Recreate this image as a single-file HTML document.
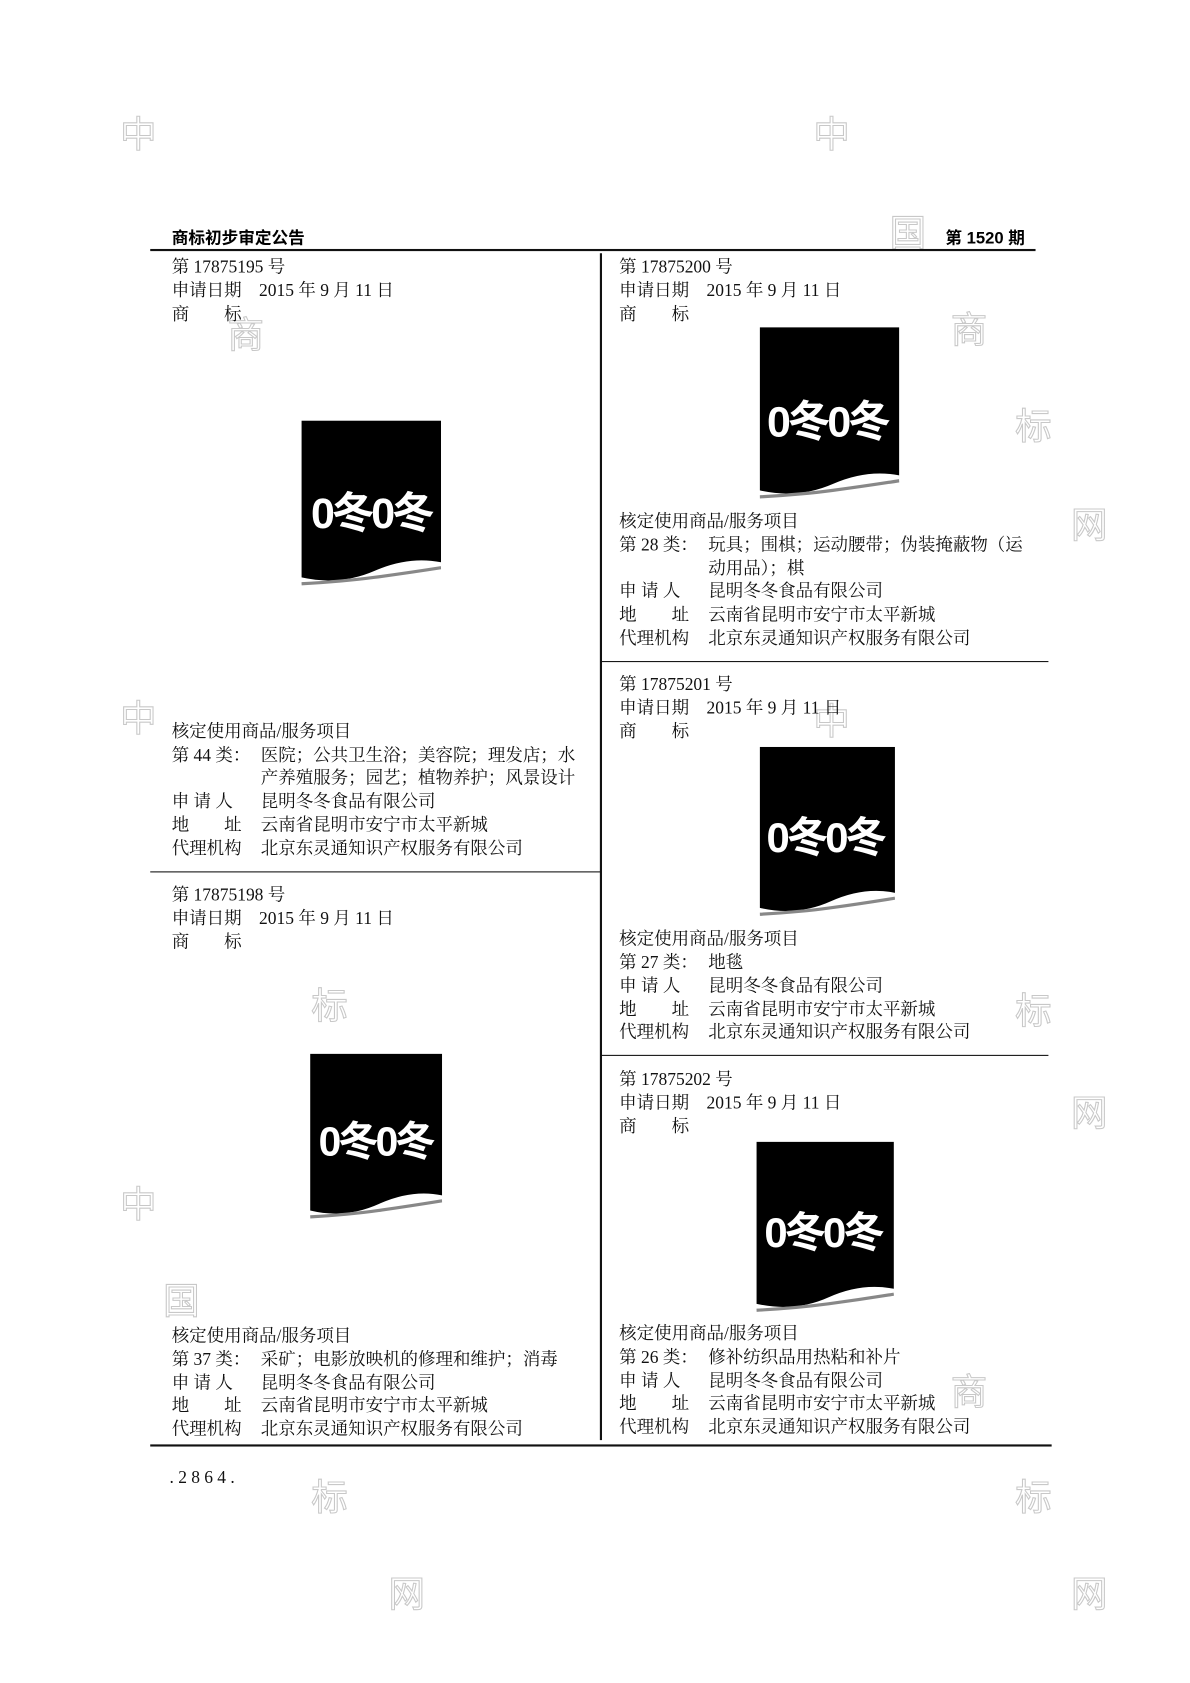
<!DOCTYPE html>
<html><head><meta charset="utf-8"><style>
html,body{margin:0;padding:0;background:#fff;}
body{width:1190px;height:1683px;overflow:hidden;position:relative;}
#w{position:absolute;left:0;top:0;width:1109px;height:1568px;transform:scale(1.0731);transform-origin:0 0;}
.t{position:absolute;font-family:"Liberation Serif","Noto Serif CJK SC",serif;font-size:16.3px;line-height:20px;color:#111;white-space:nowrap;}
.h{position:absolute;font-family:"Liberation Sans","Noto Sans CJK SC",sans-serif;font-size:15.5px;font-weight:bold;color:#000;white-space:nowrap;}
.l{position:absolute;background:#111;}
.v{position:absolute;}
.wm{position:absolute;font-family:"Noto Sans CJK SC",sans-serif;font-size:34px;color:#fff;-webkit-text-stroke:1px #bbb;opacity:.8;}
</style></head><body><div id="w">
<div class="wm" style="left:112px;top:98px">中</div>
<div class="wm" style="left:758px;top:98px">中</div>
<div class="wm" style="left:112px;top:642px">中</div>
<div class="wm" style="left:758px;top:645px">中</div>
<div class="wm" style="left:112px;top:1095px">中</div>
<div class="wm" style="left:829px;top:190px">国</div>
<div class="wm" style="left:152px;top:1185px">国</div>
<div class="wm" style="left:886px;top:280px">商</div>
<div class="wm" style="left:212px;top:285px">商</div>
<div class="wm" style="left:886px;top:1270px">商</div>
<div class="wm" style="left:946px;top:370px">标</div>
<div class="wm" style="left:946px;top:915px">标</div>
<div class="wm" style="left:290px;top:910px">标</div>
<div class="wm" style="left:290px;top:1368px">标</div>
<div class="wm" style="left:946px;top:1368px">标</div>
<div class="wm" style="left:998px;top:462px">网</div>
<div class="wm" style="left:998px;top:1010px">网</div>
<div class="wm" style="left:362px;top:1458px">网</div>
<div class="wm" style="left:998px;top:1458px">网</div>

<div class="h" style="left:160px;top:210px">商标初步审定公告</div>
<div class="h" style="left:881px;top:210px">第 1520 期</div>
<div class="l" style="left:140px;top:232px;width:825px;height:1.5px"></div>
<div class="l" style="left:559px;top:236px;width:1.5px;height:1106px"></div>
<div class="l" style="left:140px;top:812px;width:420px;height:1.2px"></div>
<div class="l" style="left:560px;top:616px;width:417px;height:1.2px"></div>
<div class="l" style="left:560px;top:983px;width:417px;height:1.2px"></div>
<div class="l" style="left:140px;top:1346px;width:840px;height:1.5px"></div>

<!-- left 1 -->
<div class="t" style="left:160px;top:239px">第 17875195 号</div>
<div class="t" style="left:160px;top:261px">申请日期　2015 年 9 月 11 日</div>
<div class="t" style="left:160px;top:283px">商　　标</div>
<div class="t" style="left:160px;top:672px">核定使用商品/服务项目</div>
<div class="t" style="left:160px;top:694px">第 44 类：</div>
<div class="t" style="left:243px;top:694px">医院；公共卫生浴；美容院；理发店；水</div>
<div class="t" style="left:243px;top:715px">产养殖服务；园艺；植物养护；风景设计</div>
<div class="t" style="left:160px;top:737px">申 请 人</div><div class="t" style="left:243px;top:737px">昆明冬冬食品有限公司</div>
<div class="t" style="left:160px;top:759px">地　　址</div><div class="t" style="left:243px;top:759px">云南省昆明市安宁市太平新城</div>
<div class="t" style="left:160px;top:781px">代理机构</div><div class="t" style="left:243px;top:781px">北京东灵通知识产权服务有限公司</div>

<!-- left 2 -->
<div class="t" style="left:160px;top:824px">第 17875198 号</div>
<div class="t" style="left:160px;top:846px">申请日期　2015 年 9 月 11 日</div>
<div class="t" style="left:160px;top:868px">商　　标</div>
<div class="t" style="left:160px;top:1235px">核定使用商品/服务项目</div>
<div class="t" style="left:160px;top:1257px">第 37 类：</div><div class="t" style="left:243px;top:1257px">采矿；电影放映机的修理和维护；消毒</div>
<div class="t" style="left:160px;top:1279px">申 请 人</div><div class="t" style="left:243px;top:1279px">昆明冬冬食品有限公司</div>
<div class="t" style="left:160px;top:1300px">地　　址</div><div class="t" style="left:243px;top:1300px">云南省昆明市安宁市太平新城</div>
<div class="t" style="left:160px;top:1322px">代理机构</div><div class="t" style="left:243px;top:1322px">北京东灵通知识产权服务有限公司</div>

<!-- right 1 -->
<div class="t" style="left:577px;top:239px">第 17875200 号</div>
<div class="t" style="left:577px;top:261px">申请日期　2015 年 9 月 11 日</div>
<div class="t" style="left:577px;top:283px">商　　标</div>
<div class="t" style="left:577px;top:476px">核定使用商品/服务项目</div>
<div class="t" style="left:577px;top:498px">第 28 类：</div><div class="t" style="left:660px;top:498px">玩具；围棋；运动腰带；伪装掩蔽物（运</div>
<div class="t" style="left:660px;top:520px">动用品）；棋</div>
<div class="t" style="left:577px;top:541px">申 请 人</div><div class="t" style="left:660px;top:541px">昆明冬冬食品有限公司</div>
<div class="t" style="left:577px;top:563px">地　　址</div><div class="t" style="left:660px;top:563px">云南省昆明市安宁市太平新城</div>
<div class="t" style="left:577px;top:585px">代理机构</div><div class="t" style="left:660px;top:585px">北京东灵通知识产权服务有限公司</div>

<!-- right 2 -->
<div class="t" style="left:577px;top:628px">第 17875201 号</div>
<div class="t" style="left:577px;top:650px">申请日期　2015 年 9 月 11 日</div>
<div class="t" style="left:577px;top:672px">商　　标</div>
<div class="t" style="left:577px;top:865px">核定使用商品/服务项目</div>
<div class="t" style="left:577px;top:887px">第 27 类：</div><div class="t" style="left:660px;top:887px">地毯</div>
<div class="t" style="left:577px;top:909px">申 请 人</div><div class="t" style="left:660px;top:909px">昆明冬冬食品有限公司</div>
<div class="t" style="left:577px;top:931px">地　　址</div><div class="t" style="left:660px;top:931px">云南省昆明市安宁市太平新城</div>
<div class="t" style="left:577px;top:952px">代理机构</div><div class="t" style="left:660px;top:952px">北京东灵通知识产权服务有限公司</div>

<!-- right 3 -->
<div class="t" style="left:577px;top:996px">第 17875202 号</div>
<div class="t" style="left:577px;top:1018px">申请日期　2015 年 9 月 11 日</div>
<div class="t" style="left:577px;top:1040px">商　　标</div>
<div class="t" style="left:577px;top:1233px">核定使用商品/服务项目</div>
<div class="t" style="left:577px;top:1255px">第 26 类：</div><div class="t" style="left:660px;top:1255px">修补纺织品用热粘和补片</div>
<div class="t" style="left:577px;top:1277px">申 请 人</div><div class="t" style="left:660px;top:1277px">昆明冬冬食品有限公司</div>
<div class="t" style="left:577px;top:1298px">地　　址</div><div class="t" style="left:660px;top:1298px">云南省昆明市安宁市太平新城</div>
<div class="t" style="left:577px;top:1320px">代理机构</div><div class="t" style="left:660px;top:1320px">北京东灵通知识产权服务有限公司</div>

<div class="t" style="left:158px;top:1367px;letter-spacing:4px">.2864.</div>

<!-- logos -->
<svg class="v" style="left:281px;top:392px" width="130" height="160" viewBox="0 0 130 160"><path d="M0 0H130V132Q100 126 68 140T0 146Z" fill="#000"/><path d="M0 152Q38 150 68 146T130 137" fill="none" stroke="#888" stroke-width="3"/><text x="65" y="100" text-anchor="middle" font-family="Liberation Sans,Noto Sans CJK SC,sans-serif" font-weight="bold" font-size="40" fill="#fff" letter-spacing="-3">0冬0冬</text></svg>
<svg class="v" style="left:289px;top:982px" width="123" height="160" viewBox="0 0 123 160"><path d="M0 0H123V132Q95 126 64 140T0 146Z" fill="#000"/><path d="M0 152Q36 150 64 146T123 137" fill="none" stroke="#888" stroke-width="3"/><text x="61" y="95" text-anchor="middle" font-family="Liberation Sans,Noto Sans CJK SC,sans-serif" font-weight="bold" font-size="38" fill="#fff" letter-spacing="-3">0冬0冬</text></svg>
<svg class="v" style="left:708px;top:305px" width="130" height="165" viewBox="0 0 130 165"><path d="M0 0H130V138Q100 132 68 146T0 152Z" fill="#000"/><path d="M0 158Q38 156 68 152T130 143" fill="none" stroke="#888" stroke-width="3"/><text x="63" y="102" text-anchor="middle" font-family="Liberation Sans,Noto Sans CJK SC,sans-serif" font-weight="bold" font-size="40" fill="#fff" letter-spacing="-3">0冬0冬</text></svg>
<svg class="v" style="left:708px;top:696px" width="126" height="163" viewBox="0 0 126 163"><path d="M0 0H126V136Q97 130 66 144T0 150Z" fill="#000"/><path d="M0 156Q37 154 66 150T126 141" fill="none" stroke="#888" stroke-width="3"/><text x="61" y="98" text-anchor="middle" font-family="Liberation Sans,Noto Sans CJK SC,sans-serif" font-weight="bold" font-size="39" fill="#fff" letter-spacing="-3">0冬0冬</text></svg>
<svg class="v" style="left:705px;top:1064px" width="128" height="164" viewBox="0 0 128 164"><path d="M0 0H128V137Q98 131 67 145T0 151Z" fill="#000"/><path d="M0 157Q37 155 67 151T128 142" fill="none" stroke="#888" stroke-width="3"/><text x="62" y="98" text-anchor="middle" font-family="Liberation Sans,Noto Sans CJK SC,sans-serif" font-weight="bold" font-size="39" fill="#fff" letter-spacing="-3">0冬0冬</text></svg>
</div></body></html>
